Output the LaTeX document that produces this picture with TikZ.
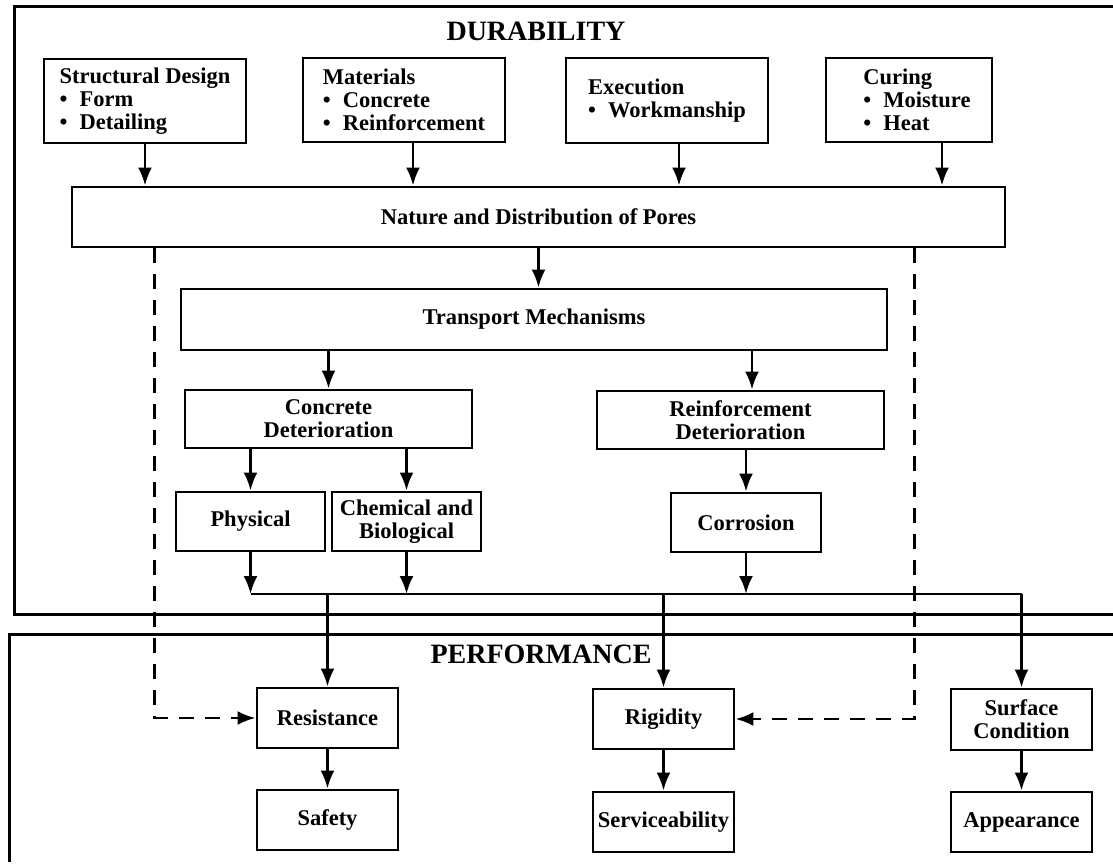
\documentclass[tikz,border=0pt]{standalone}
\usepackage{fontspec}
\setmainfont{Liberation Serif}
\usetikzlibrary{arrows.meta}

\newcommand{\bul}[1]{\makebox[20pt][l]{\textbullet}#1}

\tikzset{
  box/.style={shape=rectangle,draw=black,line width=2.8pt,align=center,inner sep=2pt,
    font=\bfseries\fontsize{22.5}{23}\selectfont},
  title/.style={font=\bfseries\fontsize{28}{30}\selectfont},
  frame/.style={line width=3pt},
  link/.style={line width=2.8pt},
  arr/.style={line width=2.8pt,-{Latex[length=18pt,width=14pt]}},
  dashlink/.style={line width=2.8pt,dash pattern=on 15pt off 11pt,-{Latex[length=18pt,width=14pt]}}
}

\begin{document}
\begin{tikzpicture}[x=1pt,y=-1pt]
	\useasboundingbox (0,0) rectangle (1113,864);

	\draw[frame] (1113,7) -- (14,7) -- (14,614) -- (1113,614);
	\draw[frame] (1113,634) -- (9,634) -- (9,862);
	\node[title] (dur)  at (536,31)  {DURABILITY};
	\node[title] (perf) at (541,654) {PERFORMANCE};

	\node[box,minimum width=202pt,minimum height=84pt,align=left] (sd)  at (145,101)   {Structural Design\\\bul{Form}\\\bul{Detailing}};
	\node[box,minimum width=202pt,minimum height=84pt,align=left] (mat) at (404,100)   {Materials\\\bul{Concrete}\\\bul{Reinforcement}};
	\node[box,minimum width=202pt,minimum height=85pt,align=left] (exe) at (667,100.5) {Execution\\\bul{Workmanship}};
	\node[box,minimum width=166pt,minimum height=84pt,align=left] (cur) at (909,100)   {\hspace*{16pt}Curing\\\hspace*{16pt}\bul{Moisture}\\\hspace*{16pt}\bul{Heat}};

	\node[box,minimum width=933pt,minimum height=60pt] (nat) at (538.5,217)   {Nature and Distribution of Pores};
	\node[box,minimum width=706pt,minimum height=61pt] (tra) at (534,319.5)   {Transport Mechanisms};
	\node[box,minimum width=287pt,minimum height=58pt] (cd)  at (328.5,419)   {Concrete\\Deterioration};
	\node[box,minimum width=287pt,minimum height=58pt] (rd)  at (740.5,420)   {Reinforcement\\Deterioration};
	\node[box,minimum width=149pt,minimum height=59pt] (phy) at (250.5,521.5) {Physical};
	\node[box,minimum width=149pt,minimum height=59pt] (che) at (406.5,521.5) {Chemical and\\Biological};
	\node[box,minimum width=150pt,minimum height=59pt] (cor) at (746,522.5)   {Corrosion};

	\node[box,minimum width=141pt,minimum height=60pt] (res) at (327.5,718)   {Resistance};
	\node[box,minimum width=141pt,minimum height=60pt] (saf) at (327.5,820)   {Safety};
	\node[box,minimum width=141pt,minimum height=60pt] (rig) at (663.5,719)   {Rigidity};
	\node[box,minimum width=141pt,minimum height=60pt] (ser) at (663.5,822)   {Serviceability};
	\node[box,minimum width=141pt,minimum height=61pt] (sur) at (1021.5,719.5) {Surface\\Condition};
	\node[box,minimum width=141pt,minimum height=60pt] (app) at (1021.5,822)  {Appearance};

	\coordinate (bus) at (0,594);

	\draw[arr] (sd.south) -- (sd.south |- nat.north);
	\draw[arr] ([xshift=9pt]mat.south) -- ([xshift=9pt]mat.south |- nat.north);
	\draw[arr] ([xshift=12pt]exe.south) -- ([xshift=12pt]exe.south |- nat.north);
	\draw[arr] ([xshift=33pt]cur.south) -- ([xshift=33pt]cur.south |- nat.north);
	\draw[arr] (nat.south) -- (nat.south |- tra.north);
	\draw[arr] (cd.north |- tra.south) -- (cd.north);
	\draw[arr] ([xshift=11.5pt]rd.north |- tra.south) -- ([xshift=11.5pt]rd.north);
	\draw[arr] (cd.south -| phy.north) -- (phy.north);
	\draw[arr] (cd.south -| che.north) -- (che.north);
	\draw[arr] (rd.south -| cor.north) -- (cor.north);

	\draw[arr] (phy.south) -- (phy.south |- bus);
	\draw[arr] (che.south) -- (che.south |- bus);
	\draw[arr] (cor.south) -- (cor.south |- bus);
	\draw[link] (phy.south |- bus) -- (sur.north |- bus);
	\draw[arr] (res.north |- bus) -- (res.north);
	\draw[arr] (rig.north |- bus) -- (rig.north);
	\draw[arr] (sur.north |- bus) -- (sur.north);

	\draw[arr] (res.south) -- (saf.north);
	\draw[arr] (rig.south) -- (rig.south |- ser.north);
	\draw[arr] (sur.south) -- (app.north);

	\draw[dashlink] ([xshift=84pt]nat.south west) |- (res.west);
	\draw[dashlink] ([xshift=-92pt]nat.south east) |- (rig.east);
\end{tikzpicture}
\end{document}
